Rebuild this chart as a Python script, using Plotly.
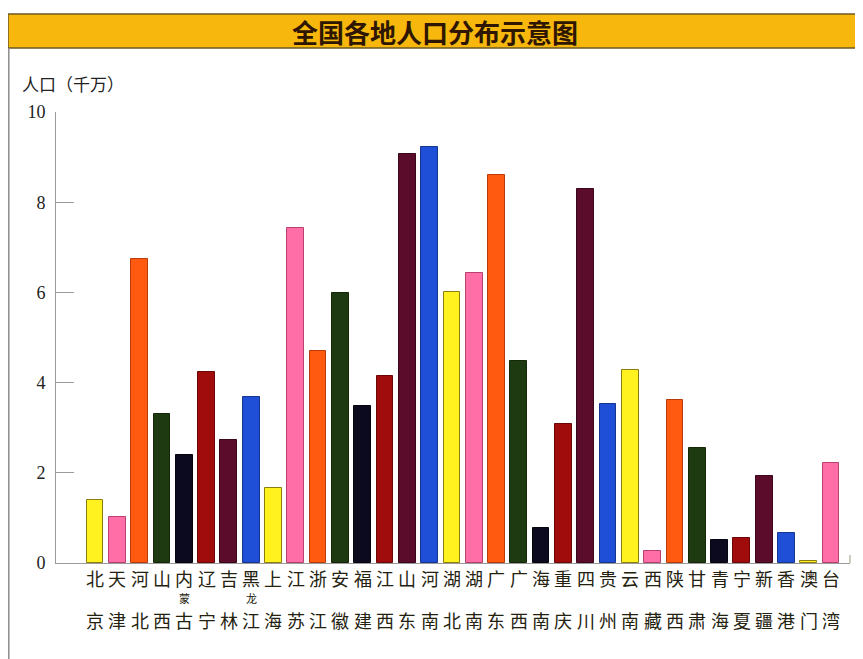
import plotly.graph_objects as go

provinces = ["北京", "天津", "河北", "山西", "内蒙古", "辽宁", "吉林", "黑龙江", "上海", "江苏",
             "浙江", "安徽", "福建", "江西", "山东", "河南", "湖北", "湖南", "广东", "广西",
             "海南", "重庆", "四川", "贵州", "云南", "西藏", "陕西", "甘肃", "青海", "宁夏",
             "新疆", "香港", "澳门", "台湾"]
population = [1.39, 1.02, 6.75, 3.31, 2.39, 4.24, 2.72, 3.69, 1.67, 7.43,
              4.69, 5.99, 3.48, 4.14, 9.06, 9.22, 6.02, 6.42, 8.60, 4.49,
              0.78, 3.09, 8.30, 3.52, 4.28, 0.26, 3.61, 2.55, 0.51, 0.55,
              1.92, 0.67, 0.04, 2.22]
palette = ["#FFF21E", "#FF6EA6", "#FF5A10", "#1D3A10", "#0B0A1E", "#A00B0B", "#5A0C2A", "#1F4FD6"]
outline = ["#8A7E10", "#B8406E", "#B83A08", "#142808", "#050510", "#6A0606", "#3A061A", "#15358F"]
y_ticks = [0, 2, 4, 6, 8, 10]

# the page puts the figure 8px in from the window's top-left corner
OFF = 8
W, H = 863 - OFF, 659 - OFF
L, R, T, B = 56 - OFF, 13, 112 - OFF, 96
PW, PH = W - L - R, H - T - B

def px_x(p):
    return (p - OFF - L) / PW

def px_y(p):
    return (H - B - (p - OFF)) / PH

xs = list(range(len(provinces)))
colors = [palette[i % len(palette)] for i in xs]
lines = [outline[i % len(outline)] for i in xs]

fig = go.Figure()
fig.add_trace(go.Bar(
    x=xs, y=population, width=0.75,
    marker=dict(color=colors, line=dict(color=lines, width=1)),
    hoverinfo="skip", showlegend=False,
))

label_font = dict(family="Noto Sans CJK SC", size=18, color="#24220E")
mid_font = dict(family="Noto Sans CJK SC", size=11, color="#24220E")
annotations = []
for i, name in enumerate(provinces):
    annotations.append(dict(x=i, y=px_y(578), xref="x", yref="paper", text=name[0],
                            showarrow=False, font=label_font, xanchor="center", yanchor="middle"))
    annotations.append(dict(x=i, y=px_y(620), xref="x", yref="paper", text=name[-1],
                            showarrow=False, font=label_font, xanchor="center", yanchor="middle"))
    if len(name) == 3:
        annotations.append(dict(x=i, y=px_y(598), xref="x", yref="paper", text=name[1],
                                showarrow=False, font=mid_font, xanchor="center", yanchor="middle"))

annotations.append(dict(x=px_x(435), y=px_y(32), xref="paper", yref="paper",
                        text="<b>全国各地人口分布示意图</b>", showarrow=False,
                        font=dict(family="Noto Sans CJK SC", size=26, color="#2E1600"),
                        xanchor="center", yanchor="middle"))
annotations.append(dict(x=px_x(20), y=px_y(83), xref="paper", yref="paper",
                        text="人口（千万）", showarrow=False,
                        font=dict(family="Noto Sans CJK SC", size=17, color="#222222"),
                        xanchor="left", yanchor="middle"))

shapes = [
    dict(type="rect", xref="paper", yref="paper", x0=px_x(8), x1=px_x(863), y0=px_y(48), y1=px_y(14),
         fillcolor="#F7B70C", line=dict(color="#6E5A22", width=1.5), layer="below"),
    dict(type="line", xref="paper", yref="paper", x0=px_x(8.8), x1=px_x(8.8), y0=px_y(48), y1=px_y(659),
         line=dict(color="#8C8C8C", width=1.5)),
    dict(type="line", xref="paper", yref="paper", x0=1, x1=1, y0=0, y1=px_y(555),
         line=dict(color="#9A9A7A", width=1)),
]

fig.update_layout(
    width=W, height=H,
    margin=dict(l=L, r=R, t=T, b=B, pad=0),
    paper_bgcolor="white", plot_bgcolor="white",
    annotations=annotations, shapes=shapes,
    bargap=0,
)
fig.update_xaxes(range=[-1.75, 33.85], showticklabels=False, showgrid=False, zeroline=False,
                 showline=True, linecolor="#9A9A9A", linewidth=1, ticks="")
fig.update_yaxes(range=[0, 10], tickvals=y_ticks, ticktext=[str(v) for v in y_ticks],
                 showgrid=False, zeroline=False, showline=True, linecolor="#9A9A9A", linewidth=1,
                 ticks="inside", ticklen=18, tickcolor="#9A9A9A", ticklabelstandoff=6,
                 tickfont=dict(family="Liberation Serif", size=18, color="#222222"))

fig.write_html("out.html")
